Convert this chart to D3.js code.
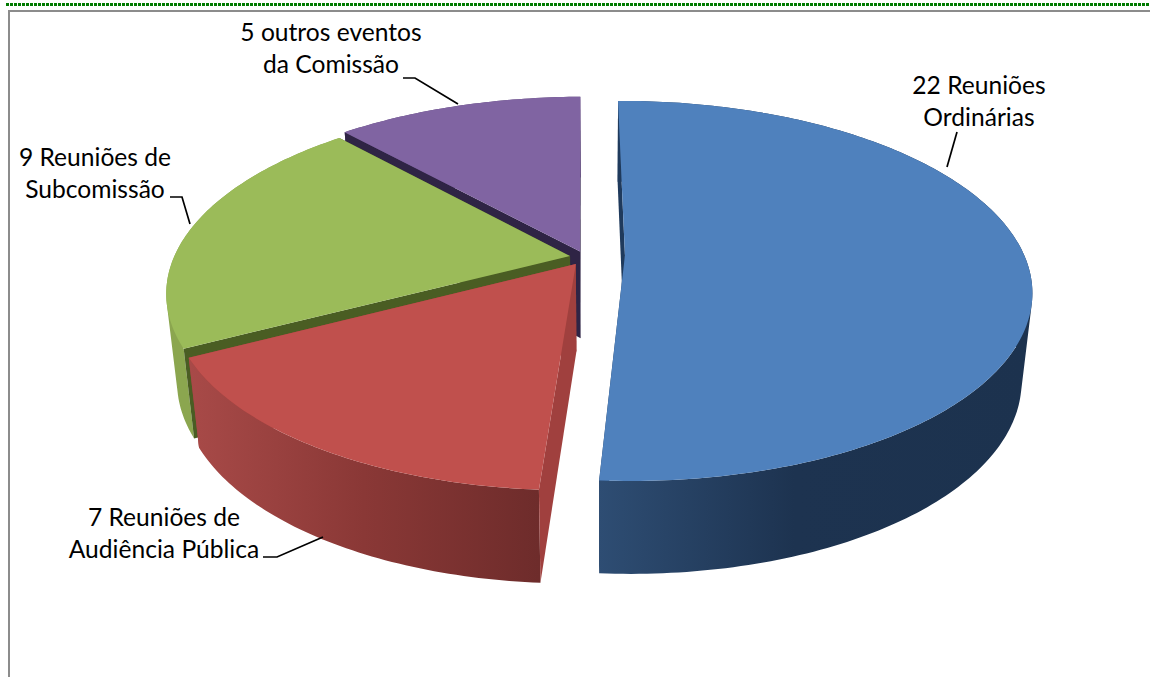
<!DOCTYPE html>
<html><head><meta charset="utf-8">
<script src="https://cdnjs.cloudflare.com/ajax/libs/d3/7.8.5/d3.min.js"></script>
<style>html,body{margin:0;padding:0;background:#fff;overflow:hidden}text{font-family:Lato,"Open Sans",sans-serif;font-size:24.6px;fill:#000}</style>
</head><body><svg id="c" width="1150" height="677"></svg>
<script>
const categories=["Reuniões Ordinárias","Reuniões de Audiência Pública","Reuniões de Subcomissão","outros eventos da Comissão"];
const values=[22,7,9,5];
const topColors=["#4f81bd","#c0504d","#9bbb59","#8064a2"];
const edgeColors=["#1f3a5c","#a0403e","#4a5d23","#2f2445"];
const wallStops=[["#2e4d73","#1d3350","#1c324e"],["#a84a48","#8a3836","#6e2c2b"],["#8ba64f","#8ba64f","#8ba64f"],["#5f4a7a","#5f4a7a","#5f4a7a"]];
const explodeX=[0.0625,-0.06,-0.075,-0.05];
const explodeY=[-0.01,0.038,-0.005,-0.03];
const sliceRadius=[1,0.985,0.99,1.012];
const labelLines=[["22 Reuniões","Ordinárias"],["7 Reuniões de","Audiência Pública"],["9 Reuniões de","Subcomissão"],["5 outros eventos","da Comissão"]];
const labelAnchors=[[979,94],[164,526],[95,166],[331,41]];
const leaders=[[[957,132],[947,167]],[[263,557],[277,557],[323,537]],[[170,197],[182,197],[190,224]],[[403,78],[415,78],[458,104]]];

const svg=d3.select("#c");
const X0=600,Y0=257,A=400,B=184,K=0.1885,ROT=-0.5*Math.PI/180;
const project=(u,v)=>{const p=1/(1-K*v);return [X0+A*u*p,Y0+B*v*p];};
const lower=(pt,v)=>[X0+(pt[0]-X0)*0.975,pt[1]+87+6*v];

// dotted top rule and grey frame
svg.append("line").attr("x1",6).attr("x2",1150).attr("y1",4.5).attr("y2",4.5)
 .attr("stroke","#007a00").attr("stroke-width",3).attr("stroke-dasharray","3 1");
svg.append("path").attr("d","M9 677V11H1150").attr("fill","none").attr("stroke","#8c8c8c").attr("stroke-width",2);

const defs=svg.append("defs");
const arcs=d3.pie().sort(null).value(d=>d).startAngle(ROT).endAngle(2*Math.PI+ROT)(values);
const order=[3,2,1,0];
const line=d3.line();
order.forEach(i=>{
  const a=arcs[i],ox=explodeX[i],oy=explodeY[i],R=sliceRadius[i];
  const pt=(ang,r=R)=>{const u=ox+r*Math.sin(ang),v=oy-r*Math.cos(ang);return {top:project(u,v),bot:lower(project(u,v),v)};};
  const N=Math.max(6,Math.ceil((a.endAngle-a.startAngle)*60));
  const angs=d3.range(N+1).map(k=>a.startAngle+(a.endAngle-a.startAngle)*k/N);
  const rim=angs.map(t=>pt(t));
  const apex=pt(0,0),s=pt(a.startAngle),e=pt(a.endAngle);
  const g=svg.append("g");
  const id="w"+i;
  const xs=rim.map(r=>r.top[0]);
  const grad=defs.append("linearGradient").attr("id",id).attr("gradientUnits","userSpaceOnUse")
    .attr("x1",d3.min(xs)).attr("x2",d3.max(xs)).attr("y1",0).attr("y2",0);
  wallStops[i].forEach((c,k)=>grad.append("stop").attr("offset",i===0?[0,0.45,1][k]:k/2).attr("stop-color",c));
  // hidden end wall goes behind the outer wall
  g.append("path").attr("d",line([apex.top,e.top,e.bot,apex.bot])+"Z").attr("fill",edgeColors[i]);
  // outer wall: same-winding strips in one path, so the silhouette stays tangent with no seams
  const strips=d3.pairs(rim).map(([p,q])=>{
    const quad=[p.top,q.top,q.bot,p.bot];
    return line(d3.polygonArea(quad)<0?quad.slice().reverse():quad)+"Z";
  }).join("");
  g.append("path").attr("d",strips).attr("fill",`url(#${id})`);
  // start wall is the one facing the viewer
  g.append("path").attr("d",line([apex.top,s.top,s.bot,apex.bot])+"Z").attr("fill",edgeColors[i]);
  // top
  g.append("path").attr("d",line([apex.top].concat(rim.map(r=>r.top)))+"Z").attr("fill",topColors[i]);
});

labelLines.forEach((ls,i)=>{
  const t=svg.append("text").attr("text-anchor","middle");
  ls.forEach((l,k)=>t.append("tspan").attr("x",labelAnchors[i][0]).attr("y",labelAnchors[i][1]+k*31.5).text(l));
  svg.append("path").attr("d",d3.line()(leaders[i])).attr("fill","none").attr("stroke","#000").attr("stroke-width",1.7);
});
</script></body></html>
